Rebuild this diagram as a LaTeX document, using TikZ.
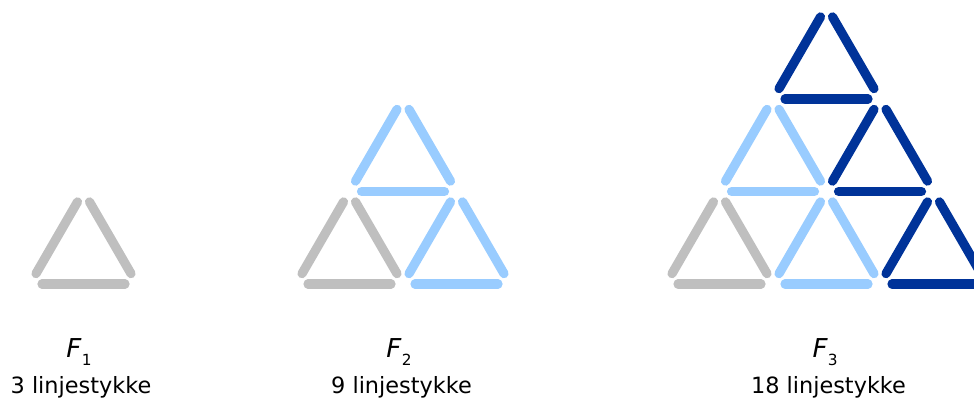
\documentclass[tikz,border=0pt]{standalone}
\usepackage{fontspec}
\setmainfont{DejaVu Sans}
\usetikzlibrary{calc}
\definecolor{stickgray}{RGB}{191,191,191}
\definecolor{sticklight}{RGB}{153,204,255}
\definecolor{stickdark}{RGB}{0,51,153}
\tikzset{
	stick/.style={line width=6.9pt, line cap=round, shorten <=9pt, shorten >=9pt},
	figname/.style={anchor=base, inner sep=0pt, font=\fontsize{19.5}{22}\selectfont},
	figcount/.style={anchor=base, inner sep=0pt, font=\fontsize{16.8}{20}\selectfont},
}
\newcommand{\figidx}[1]{\raisebox{-6pt}{\fontsize{11.5}{13}\selectfont #1}}

\begin{document}
\begin{tikzpicture}[x=0.75pt, y=-0.75pt]
	\useasboundingbox (0,0) rectangle (974,401);
	% one triangle per entry: lower left corner / colour
	\foreach \x/\y/\c in {30/284/stickgray,
		296/284/stickgray, 403/284/sticklight, 349.5/191.5/sticklight,
		666/284/stickgray, 773/284/sticklight, 880/284/stickdark,
		719.5/191.5/sticklight, 826.5/191.5/stickdark, 773/99/stickdark}{
		\coordinate (a) at (\x,\y);
		\coordinate (b) at ($(a)+(107,0)$);
		\coordinate (c) at ($(a)+(53.5,-92.5)$);
		\draw[stick, \c] (a) -- (b);
		\draw[stick, \c] (a) -- (c);
		\draw[stick, \c] (b) -- (c);
	}
	\node[figname] (f1) at (79,357) {\textit{F}\figidx{1}};
	\node[figname] (f2) at (399,357) {\textit{F}\figidx{2}};
	\node[figname] (f3) at (825,357) {\textit{F}\figidx{3}};
	\node[figcount] (n1) at (81,393) {3 linjestykke};
	\node[figcount] (n2) at (401.5,393) {9 linjestykke};
	\node[figcount] (n3) at (828.5,393) {18 linjestykke};
\end{tikzpicture}
\end{document}
